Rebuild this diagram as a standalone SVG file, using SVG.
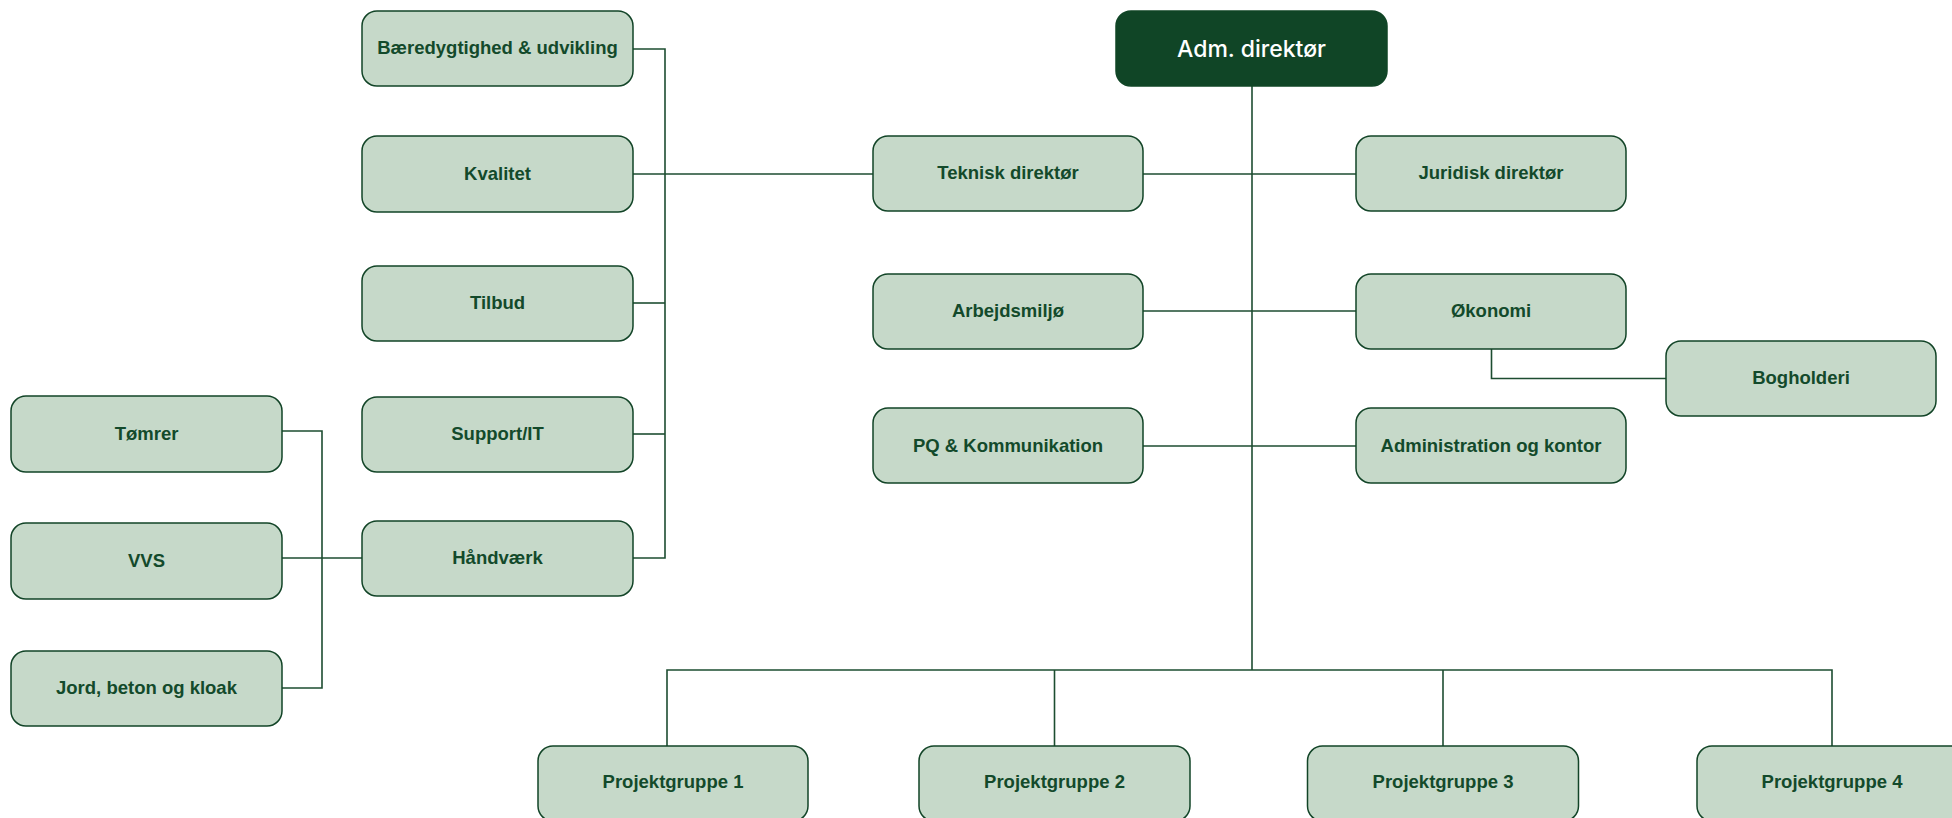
<svg xmlns="http://www.w3.org/2000/svg" width="1952" height="818" viewBox="0 0 1952 818">
<style>
.box{fill:#c6d9c9;stroke:#124427;stroke-width:1.5}
.top{fill:#104526;stroke:#104526;stroke-width:1.5}
.t{font-family:"Liberation Sans",Arial,sans-serif;font-weight:700;font-size:18.5px;fill:#134a2b;text-anchor:middle;dominant-baseline:central}
.tw{font-family:Inter,"Liberation Sans",Arial,sans-serif;font-weight:500;font-size:23px;fill:#ffffff;text-anchor:middle;dominant-baseline:central}
.c{fill:none;stroke:#1d4d31;stroke-width:1.6}
</style>
<rect width="1952" height="818" fill="#ffffff"/>
<g id="connectors">
<polyline class="c" points="633,49 665,49 665,558 633,558"/>
<line class="c" x1="633" y1="174" x2="873" y2="174"/>
<line class="c" x1="633" y1="303" x2="665" y2="303"/>
<line class="c" x1="633" y1="434" x2="665" y2="434"/>
<polyline class="c" points="282,431 322,431 322,688 282,688"/>
<line class="c" x1="282" y1="558" x2="362" y2="558"/>
<line class="c" x1="1252" y1="86" x2="1252" y2="670"/>
<line class="c" x1="1143" y1="174" x2="1356" y2="174"/>
<line class="c" x1="1143" y1="311" x2="1356" y2="311"/>
<line class="c" x1="1143" y1="446" x2="1356" y2="446"/>
<polyline class="c" points="1491.5,349 1491.5,378.5 1666,378.5"/>
<polyline class="c" points="667,746 667,670 1832,670 1832,746"/>
<line class="c" x1="1054.5" y1="670" x2="1054.5" y2="746"/>
<line class="c" x1="1443" y1="670" x2="1443" y2="746"/>
</g>
<g id="adm"><rect class="top" x="1116" y="11" width="271" height="75" rx="15"/><text class="tw" x="1251.5" y="49">Adm. direktør</text></g>
<g id="baeredygtighed"><rect class="box" x="362" y="11" width="271" height="75" rx="15"/><text class="t" x="497.5" y="47.5">Bæredygtighed &amp; udvikling</text></g>
<g id="kvalitet"><rect class="box" x="362" y="136" width="271" height="76" rx="15"/><text class="t" x="497.5" y="173">Kvalitet</text></g>
<g id="tilbud"><rect class="box" x="362" y="266" width="271" height="75" rx="15"/><text class="t" x="497.5" y="302.5">Tilbud</text></g>
<g id="support"><rect class="box" x="362" y="397" width="271" height="75" rx="15"/><text class="t" x="497.5" y="433.5">Support/IT</text></g>
<g id="haandvaerk"><rect class="box" x="362" y="521" width="271" height="75" rx="15"/><text class="t" x="497.5" y="557.5">Håndværk</text></g>
<g id="toemrer"><rect class="box" x="11" y="396" width="271" height="76" rx="15"/><text class="t" x="146.5" y="433">Tømrer</text></g>
<g id="vvs"><rect class="box" x="11" y="523" width="271" height="76" rx="15"/><text class="t" x="146.5" y="560">VVS</text></g>
<g id="jord"><rect class="box" x="11" y="651" width="271" height="75" rx="15"/><text class="t" x="146.5" y="687.5">Jord, beton og kloak</text></g>
<g id="teknisk"><rect class="box" x="873" y="136" width="270" height="75" rx="15"/><text class="t" x="1008" y="172">Teknisk direktør</text></g>
<g id="arbejdsmiljoe"><rect class="box" x="873" y="274" width="270" height="75" rx="15"/><text class="t" x="1008" y="310.5">Arbejdsmiljø</text></g>
<g id="pq"><rect class="box" x="873" y="408" width="270" height="75" rx="15"/><text class="t" x="1008" y="445">PQ &amp; Kommunikation</text></g>
<g id="juridisk"><rect class="box" x="1356" y="136" width="270" height="75" rx="15"/><text class="t" x="1491" y="172">Juridisk direktør</text></g>
<g id="oekonomi"><rect class="box" x="1356" y="274" width="270" height="75" rx="15"/><text class="t" x="1491" y="310">Økonomi</text></g>
<g id="administration"><rect class="box" x="1356" y="408" width="270" height="75" rx="15"/><text class="t" x="1491" y="445">Administration og kontor</text></g>
<g id="bogholderi"><rect class="box" x="1666" y="341" width="270" height="75" rx="15"/><text class="t" x="1801" y="377.5">Bogholderi</text></g>
<g id="pg1"><rect class="box" x="538" y="746" width="270" height="75" rx="15"/><text class="t" x="673" y="781">Projektgruppe 1</text></g>
<g id="pg2"><rect class="box" x="919" y="746" width="271" height="75" rx="15"/><text class="t" x="1054.5" y="781">Projektgruppe 2</text></g>
<g id="pg3"><rect class="box" x="1307.5" y="746" width="271" height="75" rx="15"/><text class="t" x="1443" y="781">Projektgruppe 3</text></g>
<g id="pg4"><rect class="box" x="1697" y="746" width="271" height="75" rx="15"/><text class="t" x="1832" y="781">Projektgruppe 4</text></g>
</svg>
